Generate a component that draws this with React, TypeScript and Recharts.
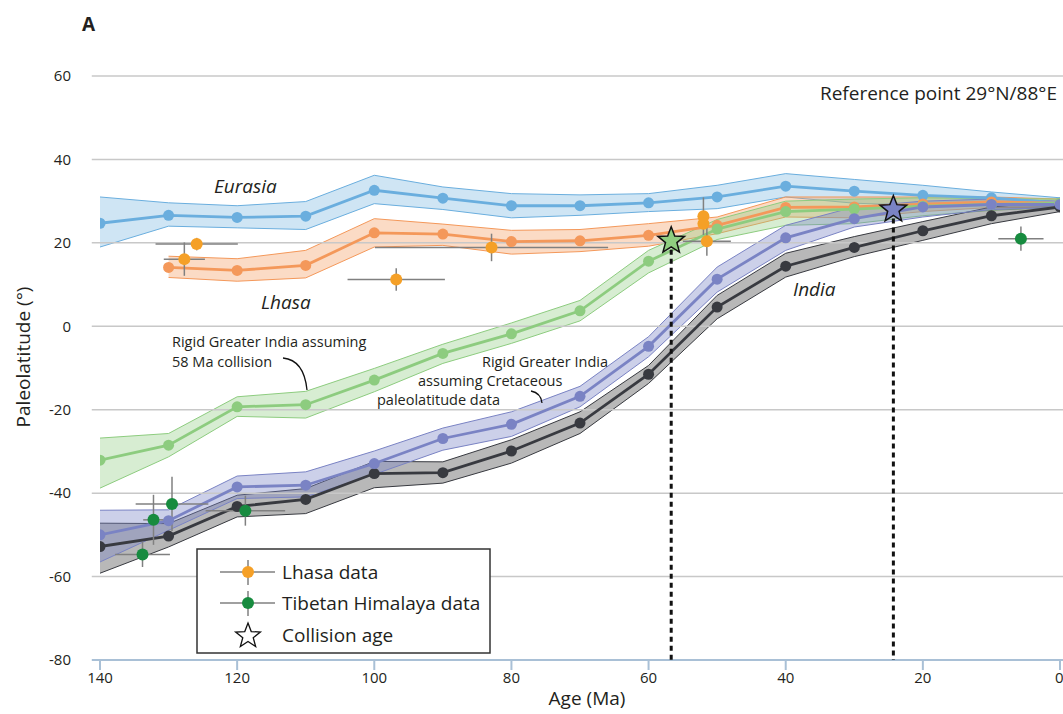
import React from "react";
import {
  Area,
  ComposedChart,
  ErrorBar,
  Line,
  ReferenceLine,
  Scatter,
  XAxis,
  YAxis,
} from "recharts";

// model paleolatitude paths, every 10 Myr
const ages = [140, 130, 120, 110, 100, 90, 80, 70, 60, 50, 40, 30, 20, 10, 0];

const eurasia = [24.7, 26.6, 26.1, 26.4, 32.6, 30.7, 28.9, 28.9, 29.6, 31, 33.6, 32.4, 31.4, 30.8, 29.6];
const eurasiaLo = [19, 24, 23.6, 23.2, 29.4, 28, 26, 26.6, 27.5, 28.2, 31, 29.5, 29, 29.3, 28.6];
const eurasiaHi = [31, 29.6, 28.9, 29.9, 36.2, 33.4, 31.8, 31.5, 31.8, 33.8, 36.6, 35.2, 33.8, 32.2, 30.8];

const lhasa = [null, 14.1, 13.4, 14.6, 22.4, 22.1, 20.3, 20.5, 21.8, 24.2, 28.5, 28.6, 29.3, 29.8, 29.5];
const lhasaLo = [null, 11.7, 10.8, 11.6, 19, 19.4, 17.3, 17.9, 19.2, 22.2, 26.2, 26, 27.5, 28.5, 28.5];
const lhasaHi = [null, 16.8, 16.2, 18.2, 25.8, 24.5, 23, 23.2, 24.6, 26.2, 31, 31, 31, 31, 30.5];

const greater58 = [-32.1, -28.5, -19.3, -18.8, -12.9, -6.5, -1.8, 3.7, 15.6, 23.3, 27.5, 28.1, 28.8, 29.2, 29.5];
const greater58Lo = [-38.8, -31.3, -21.6, -22, -15.7, -8.9, -4.1, 1.3, 12.8, 20.8, 24.2, 24.6, 26.5, 27.8, 28.5];
const greater58Hi = [-26.8, -25.7, -16.9, -15.6, -10.1, -4.3, 0.8, 6.2, 18.2, 25.6, 30, 30.5, 30.8, 30.6, 30.5];

const greaterK = [-50, -46.6, -38.5, -38.1, -32.9, -26.9, -23.5, -16.8, -4.8, 11.3, 21.2, 25.8, 28.6, 29.2, 29.2];
const greaterKLo = [-56.5, -48.9, -41.3, -40.9, -35.5, -29.7, -26.4, -19.3, -7.3, 8.2, 18.2, 23.8, 26.2, 28, 28.5];
const greaterKHi = [-44.1, -44, -35.9, -34.9, -29.9, -24.4, -20.5, -14.4, -2.5, 14.2, 24.2, 28.6, 30, 30.5, 30];

const india = [-52.8, -50.3, -43.2, -41.5, -35.3, -35.1, -29.9, -23.2, -11.5, 4.6, 14.4, 18.9, 22.9, 26.5, 28.6];
const indiaLo = [-59.2, -52.9, -45.7, -44.9, -38.7, -37.6, -32.8, -25.7, -13.7, 1.8, 11.8, 16.7, 20.6, 24.6, 27.5];
const indiaHi = [-47.2, -47.3, -40.5, -38.9, -32.4, -32.5, -27.2, -20.5, -9.4, 7.4, 17.5, 21.5, 25.1, 28.6, 30];

// paleomagnetic data
const lhasaDataAge = [125.9, 127.7, 96.8, 82.9, 52, 52, 51.5];
const lhasaDataLat = [19.7, 16.1, 11.2, 18.9, 26.4, 24.6, 20.4];
const lhasaDataAgeErr = [6, 3, 7.1, 17, 0.8, 0.8, 3.5];
const lhasaDataLatErr = [1.5, 4, 2.7, 3.3, 4.5, 1, 3.5];

const himDataAge = [133.8, 132.2, 129.5, 118.8, 5.7];
const himDataLat = [-54.7, -46.4, -42.6, -44.2, 21];
const himDataAgeErr = [4, 1.5, 5.3, 5.8, 3.3];
const himDataLatErr = [3, 6, 6.5, 3.6, 2.9];

const collisionAge = [56.7, 24.3];
const collisionLat = [20.5, 28];
const collisionFill = ["#8fce80", "#7a83c4"];

const xTicks = [140, 120, 100, 80, 60, 40, 20, 0];
const yTicks = [-80, -60, -40, -20, 0, 20, 40, 60];
const gridLats = [60, 40, 20, 0, -20, -40, -60];

const rows = ages.map((age, i) => ({
  age,
  eurasia: eurasia[i],
  eurasiaBand: [eurasiaLo[i], eurasiaHi[i]],
  lhasa: lhasa[i],
  lhasaBand: lhasa[i] == null ? null : [lhasaLo[i], lhasaHi[i]],
  greater58: greater58[i],
  greater58Band: [greater58Lo[i], greater58Hi[i]],
  greaterK: greaterK[i],
  greaterKBand: [greaterKLo[i], greaterKHi[i]],
  india: india[i],
  indiaBand: [indiaLo[i], indiaHi[i]],
}));

const lhasaPoints = lhasaDataAge.map((age, i) => ({
  age,
  lat: lhasaDataLat[i],
  ageErr: lhasaDataAgeErr[i],
  latErr: lhasaDataLatErr[i],
}));
const himPoints = himDataAge.map((age, i) => ({
  age,
  lat: himDataLat[i],
  ageErr: himDataAgeErr[i],
  latErr: himDataLatErr[i],
}));
const collisions = collisionAge.map((age, i) => ({ age, lat: collisionLat[i], idx: i }));

const FONT = "'Open Sans', sans-serif";
const AXIS = "#a9c0d6";
const INK = "#231f20";

function starPoints(cx: number, cy: number, R: number, r: number) {
  const pts: string[] = [];
  for (let i = 0; i < 10; i++) {
    const a = -Math.PI / 2 + (i * Math.PI) / 5;
    const rad = i % 2 === 0 ? R : r;
    pts.push(`${cx + rad * Math.cos(a)},${cy + rad * Math.sin(a)}`);
  }
  return pts.join(" ");
}

const dot = (color: string) => (p: any) => (
  <circle cx={p.cx} cy={p.cy} r={6} fill={color} stroke="none" />
);

const StarShape = (p: any) => (
  <polygon
    points={starPoints(p.cx, p.cy, 14, 6)}
    fill={collisionFill[p.payload.idx]}
    stroke="#111"
    strokeWidth={1.5}
  />
);

const series = [
  { key: "eurasia", color: "#6aaede", fill: "#6aaede", op: 0.32 },
  { key: "lhasa", color: "#f4985a", fill: "#f4985a", op: 0.35 },
  { key: "greater58", color: "#8dcc7f", fill: "#8dcc7f", op: 0.35 },
  { key: "india", color: "#383a40", fill: "#555", op: 0.42 },
  { key: "greaterK", color: "#7a83c4", fill: "#7a83c4", op: 0.38 },
];

function LegendIcon({ x, y, color }: { x: number; y: number; color: string }) {
  return (
    <g>
      <line x1={x - 28} x2={x + 27} y1={y} y2={y} stroke="#808080" strokeWidth={1.5} />
      <line x1={x} x2={x} y1={y - 12} y2={y + 13} stroke="#808080" strokeWidth={1.5} />
      <circle cx={x} cy={y} r={6} fill={color} />
    </g>
  );
}

export default function App() {
  return (
    <div style={{ position: "absolute", left: 0, top: 0, width: 1063, height: 714, fontFamily: FONT }}>
      <ComposedChart
        width={1063}
        height={714}
        data={rows}
        margin={{ top: 76, right: 3, left: 0, bottom: 24 }}
      >
        <XAxis
          type="number"
          dataKey="age"
          domain={[0, 140]}
          reversed
          ticks={xTicks}
          height={30}
          axisLine={false}
          tickLine={{ stroke: AXIS, strokeWidth: 2 }}
          tickSize={10}
          tickMargin={2}
          tick={{ fontSize: 15, fill: INK, fontFamily: FONT }}
          allowDataOverflow
        />
        <YAxis
          type="number"
          domain={[-80, 60]}
          ticks={yTicks}
          width={100}
          axisLine={false}
          tickLine={false}
          tickSize={0}
          tickMargin={29}
          tick={{ fontSize: 15, fill: INK, fontFamily: FONT }}
          allowDataOverflow
        />
        {gridLats.map((lat) => (
          <ReferenceLine
            key={lat}
            segment={[
              { x: 141.2, y: lat },
              { x: -0.5, y: lat },
            ]}
            stroke="#c8c8c8"
            strokeWidth={1.5}
            ifOverflow="visible"
          />
        ))}
        <ReferenceLine
          segment={[
            { x: 141.2, y: -80 },
            { x: -0.5, y: -80 },
          ]}
          stroke={AXIS}
          strokeWidth={2}
          ifOverflow="visible"
        />
        {series.map((s) => (
          <Area
            key={s.key + "Band"}
            dataKey={s.key + "Band"}
            type="linear"
            stroke={s.color}
            strokeWidth={1}
            fill={s.fill}
            fillOpacity={s.op}
            isAnimationActive={false}
            activeDot={false}
          />
        ))}
        {series.map((s) => (
          <Line
            key={s.key}
            dataKey={s.key}
            type="linear"
            stroke={s.color}
            strokeWidth={2.8}
            dot={{ r: 5.5, fill: s.color, stroke: "none" }}
            activeDot={false}
            isAnimationActive={false}
          />
        ))}
        {collisions.map((c) => (
          <ReferenceLine
            key={"v" + c.idx}
            segment={[
              { x: c.age, y: c.lat },
              { x: c.age, y: -80 },
            ]}
            stroke="#111"
            strokeWidth={3}
            strokeDasharray="5 4"
          />
        ))}
        <Scatter data={lhasaPoints} dataKey="lat" shape={dot("#f5a027")} isAnimationActive={false}>
          <ErrorBar dataKey="ageErr" direction="x" width={0} stroke="#808080" strokeWidth={1.5} />
          <ErrorBar dataKey="latErr" direction="y" width={0} stroke="#808080" strokeWidth={1.5} />
        </Scatter>
        <Scatter data={himPoints} dataKey="lat" shape={dot("#178b3f")} isAnimationActive={false}>
          <ErrorBar dataKey="ageErr" direction="x" width={0} stroke="#808080" strokeWidth={1.5} />
          <ErrorBar dataKey="latErr" direction="y" width={0} stroke="#808080" strokeWidth={1.5} />
        </Scatter>
        <Scatter data={collisions} dataKey="lat" shape={StarShape} isAnimationActive={false} />
      </ComposedChart>

      <svg
        width={1063}
        height={714}
        style={{ position: "absolute", left: 0, top: 0, pointerEvents: "none" }}
        fontFamily={FONT}
        fill={INK}
      >
        <text x={82} y={31} fontSize={19} fontWeight="bold">A</text>
        <text x={1057} y={100} fontSize={19} textAnchor="end">
          Reference point 29°N/88°E
        </text>
        <text x={214} y={193} fontSize={19} fontStyle="italic">Eurasia</text>
        <text x={261} y={309} fontSize={19} fontStyle="italic">Lhasa</text>
        <text x={793} y={296} fontSize={19} fontStyle="italic">India</text>

        <g fontSize={14.5}>
          <text x={172} y={347}>Rigid Greater India assuming</text>
          <text x={172} y={367}>58 Ma collision</text>
          <text x={482} y={367}>Rigid Greater India</text>
          <text x={418} y={386}>assuming Cretaceous</text>
          <text x={377} y={405}>paleolatitude data</text>
        </g>
        <path d="M283,358 Q304,360 307,390" fill="none" stroke="#111" strokeWidth={1.3} />
        <path d="M531,391 Q541,393 542,403" fill="none" stroke="#111" strokeWidth={1.3} />

        <text
          x={23}
          y={357}
          fontSize={19}
          textAnchor="middle"
          dominantBaseline="central"
          transform="rotate(-90 23 357)"
        >
          Paleolatitude (°)
        </text>
        <text x={587} y={705} fontSize={19} textAnchor="middle">Age (Ma)</text>

        <rect x={197} y={549} width={293} height={104} fill="#fff" stroke="#333" strokeWidth={1.5} />
        <LegendIcon x={248} y={572} color="#f5a027" />
        <text x={282} y={579} fontSize={19}>Lhasa data</text>
        <LegendIcon x={248} y={603} color="#178b3f" />
        <text x={282} y={610} fontSize={19}>Tibetan Himalaya data</text>
        <polygon points={starPoints(248, 636, 13, 5.5)} fill="#fff" stroke="#111" strokeWidth={1.3} />
        <text x={282} y={642} fontSize={19}>Collision age</text>
      </svg>
    </div>
  );
}
